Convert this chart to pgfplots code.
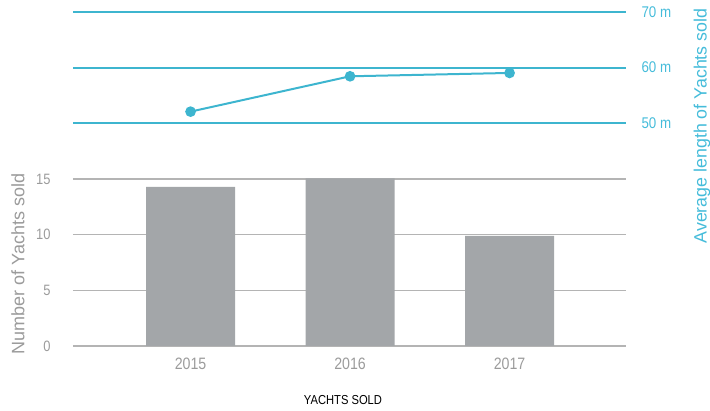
\documentclass[border=0pt]{standalone}
\usepackage{pgfplots}
\pgfplotsset{compat=1.18}
\usepackage{fontspec}
\setmainfont{Liberation Sans}
\newfontfamily\cond{Liberation Sans}[FakeStretch=0.86]
\definecolor{txtgray}{HTML}{9B9B9B}
\definecolor{bargray}{HTML}{A3A6A9}
\definecolor{gridgray}{HTML}{B4B4B4}
\definecolor{tealline}{HTML}{3DB5CF}
\definecolor{tealtxt}{HTML}{45BCDA}
\begin{document}
\begin{tikzpicture}
\begin{axis}[at={(73pt,65pt)}, anchor=south west, scale only axis,
  width=553pt, height=334pt,
  xmin=-0.737, xmax=2.73, ymin=0, ymax=30,
  axis line style={draw=none}, tick style={draw=none},
  xtick={0,1,2}, xticklabels={2015,2016,2017},
  ytick={0,5,10,15},
  ymajorgrids, grid style={gridgray, line width=1.3pt},
  /pgf/number format/assume math mode=true,
  yticklabel style={font=\cond\fontsize{15}{15}\selectfont, text=txtgray, xshift=-19pt},
  xticklabel style={font=\cond\fontsize{16.5}{16.5}\selectfont, text=txtgray, yshift=-8pt},
]
\addplot[ybar, bar width=89pt, fill=bargray, draw=none] coordinates {(0,14.3) (1,15.05) (2,9.9)};
\end{axis}
\begin{axis}[at={(73pt,65pt)}, anchor=south west, scale only axis,
  width=553pt, height=334pt,
  xmin=-0.737, xmax=2.73, ymin=10, ymax=70,
  axis line style={draw=none}, tick style={draw=none},
  xtick=\empty,
  ytick={50,60,70}, yticklabels={50 m,60 m,70 m},
  yticklabel pos=right,
  ymajorgrids, grid style={tealline, line width=1.8pt},
  yticklabel style={font=\cond\fontsize{15.5}{15.5}\selectfont, text=tealtxt, xshift=12pt},
]
\addplot[tealline, line width=2pt, mark=*, mark size=4.3pt, mark options={fill=tealline, draw=tealline}] coordinates {(0,52.1) (1,58.45) (2,59.05)};
\end{axis}
\node[rotate=90, text=txtgray, font=\fontsize{18}{18}\selectfont] at (18pt,147pt) {Number of Yachts sold};
\node[rotate=90, text=tealtxt, font=\fontsize{17.8}{17.8}\selectfont] at (702pt,285pt) {Average length of Yachts sold};
\node[text=black, font=\cond\fontsize{13}{13}\selectfont] at (343pt,11pt) {YACHTS SOLD};
\pgfresetboundingbox
\path[use as bounding box] (0pt,0pt) rectangle (710pt,411pt);
\end{tikzpicture}
\end{document}
